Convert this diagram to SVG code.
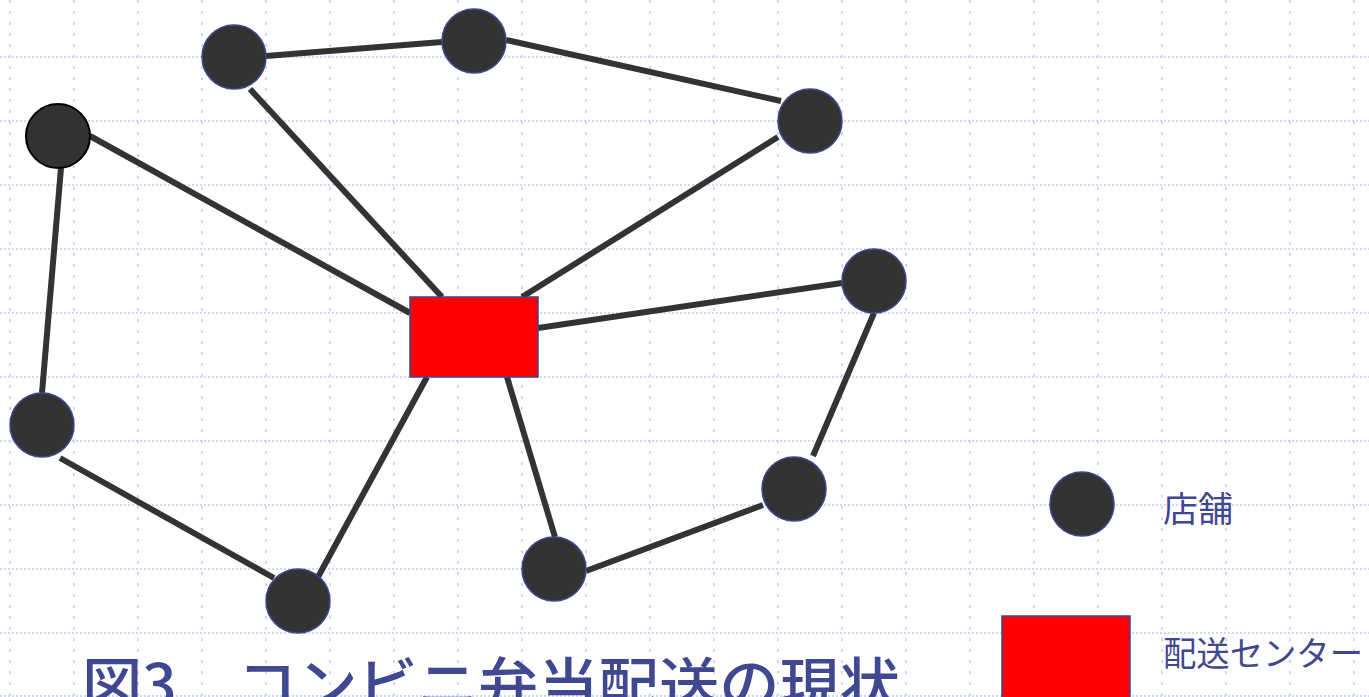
<svg xmlns="http://www.w3.org/2000/svg" width="1369" height="697" viewBox="0 0 1369 697">
  <defs>
    <style>
      .grid-h { stroke: #cdd9f6; stroke-width: 2; stroke-dasharray: 2 2; }
      .grid-v { stroke: #cdd9f6; stroke-width: 2; stroke-dasharray: 3 8; }
      .edge { stroke: #333333; stroke-width: 6; fill: none; }
      .store { fill: #333333; stroke: #3c4590; stroke-width: 1.5; }
      .store-alt { fill: #333333; stroke: #000000; stroke-width: 2; }
      .center { fill: #ff0000; stroke: #3c4590; stroke-width: 1.5; }
      .label { font-family: "Noto Sans CJK JP", "Noto Sans", sans-serif; fill: #3f4891; }
    </style>
  </defs>

  <rect width="1369" height="697" fill="#ffffff"/>

  <!-- background grid -->
  <g id="grid">
    <g>
      <line class="grid-h" x1="0" y1="57" x2="1369" y2="57"/>
      <line class="grid-h" x1="0" y1="121" x2="1369" y2="121"/>
      <line class="grid-h" x1="0" y1="185" x2="1369" y2="185"/>
      <line class="grid-h" x1="0" y1="249" x2="1369" y2="249"/>
      <line class="grid-h" x1="0" y1="313" x2="1369" y2="313"/>
      <line class="grid-h" x1="0" y1="377" x2="1369" y2="377"/>
      <line class="grid-h" x1="0" y1="441" x2="1369" y2="441"/>
      <line class="grid-h" x1="0" y1="505" x2="1369" y2="505"/>
      <line class="grid-h" x1="0" y1="569" x2="1369" y2="569"/>
      <line class="grid-h" x1="0" y1="633" x2="1369" y2="633"/>
      <line class="grid-h" x1="0" y1="696" x2="1369" y2="696"/>
    </g>
    <g>
      <line class="grid-v" x1="10" y1="0" x2="10" y2="697"/>
      <line class="grid-v" x1="74" y1="0" x2="74" y2="697"/>
      <line class="grid-v" x1="138" y1="0" x2="138" y2="697"/>
      <line class="grid-v" x1="202" y1="0" x2="202" y2="697"/>
      <line class="grid-v" x1="266" y1="0" x2="266" y2="697"/>
      <line class="grid-v" x1="330" y1="0" x2="330" y2="697"/>
      <line class="grid-v" x1="394" y1="0" x2="394" y2="697"/>
      <line class="grid-v" x1="458" y1="0" x2="458" y2="697"/>
      <line class="grid-v" x1="522" y1="0" x2="522" y2="697"/>
      <line class="grid-v" x1="586" y1="0" x2="586" y2="697"/>
      <line class="grid-v" x1="650" y1="0" x2="650" y2="697"/>
      <line class="grid-v" x1="714" y1="0" x2="714" y2="697"/>
      <line class="grid-v" x1="778" y1="0" x2="778" y2="697"/>
      <line class="grid-v" x1="842" y1="0" x2="842" y2="697"/>
      <line class="grid-v" x1="906" y1="0" x2="906" y2="697"/>
      <line class="grid-v" x1="970" y1="0" x2="970" y2="697"/>
      <line class="grid-v" x1="1034" y1="0" x2="1034" y2="697"/>
      <line class="grid-v" x1="1098" y1="0" x2="1098" y2="697"/>
      <line class="grid-v" x1="1162" y1="0" x2="1162" y2="697"/>
      <line class="grid-v" x1="1226" y1="0" x2="1226" y2="697"/>
      <line class="grid-v" x1="1290" y1="0" x2="1290" y2="697"/>
      <line class="grid-v" x1="1354" y1="0" x2="1354" y2="697"/>
    </g>
  </g>

  <!-- delivery routes -->
  <g id="connectors">
    <line class="edge" x1="266" y1="56" x2="442" y2="42"/>
    <line class="edge" x1="506" y1="40" x2="781" y2="101"/>
    <line class="edge" x1="250" y1="89" x2="442" y2="297"/>
    <line class="edge" x1="90" y1="136" x2="410" y2="313"/>
    <line class="edge" x1="778" y1="137" x2="522" y2="297"/>
    <line class="edge" x1="538" y1="328" x2="842" y2="283"/>
    <line class="edge" x1="874" y1="313" x2="813" y2="456"/>
    <line class="edge" x1="763" y1="505" x2="586" y2="571"/>
    <line class="edge" x1="555" y1="537" x2="507" y2="377"/>
    <line class="edge" x1="318" y1="577" x2="427" y2="377"/>
    <line class="edge" x1="60" y1="458" x2="274" y2="578"/>
    <line class="edge" x1="61" y1="168" x2="42" y2="393"/>
  </g>

  <!-- distribution center -->
  <g id="center">
    <rect class="center" x="410" y="297" width="128" height="80"/>
  </g>

  <!-- stores -->
  <g id="store-a"><circle class="store" cx="234" cy="57" r="32"/></g>
  <g id="store-b"><circle class="store" cx="474" cy="41" r="32"/></g>
  <g id="store-c"><circle class="store" cx="810" cy="121" r="32"/></g>
  <g id="store-d"><circle class="store-alt" cx="58" cy="136" r="32"/></g>
  <g id="store-e"><circle class="store" cx="874" cy="281" r="32"/></g>
  <g id="store-f"><circle class="store" cx="42" cy="425" r="32"/></g>
  <g id="store-g"><circle class="store" cx="794" cy="489" r="32"/></g>
  <g id="store-h"><circle class="store" cx="554" cy="569" r="32"/></g>
  <g id="store-i"><circle class="store" cx="298" cy="601" r="32"/></g>

  <!-- legend -->
  <g id="legend-store">
    <circle class="store" cx="1082" cy="504" r="32"/>
    <text class="label" x="1163" y="522" font-size="35">店舗</text>
  </g>
  <g id="legend-center">
    <rect class="center" x="1002" y="616" width="128" height="84"/>
    <text class="label" x="1163" y="666" font-size="34" textLength="200" lengthAdjust="spacingAndGlyphs">配送センター</text>
  </g>

  <!-- caption -->
  <g id="caption">
    <text class="label" x="82" y="706" font-size="58" font-weight="500" textLength="818" lengthAdjust="spacingAndGlyphs">図3　コンビニ弁当配送の現状</text>
  </g>
</svg>
